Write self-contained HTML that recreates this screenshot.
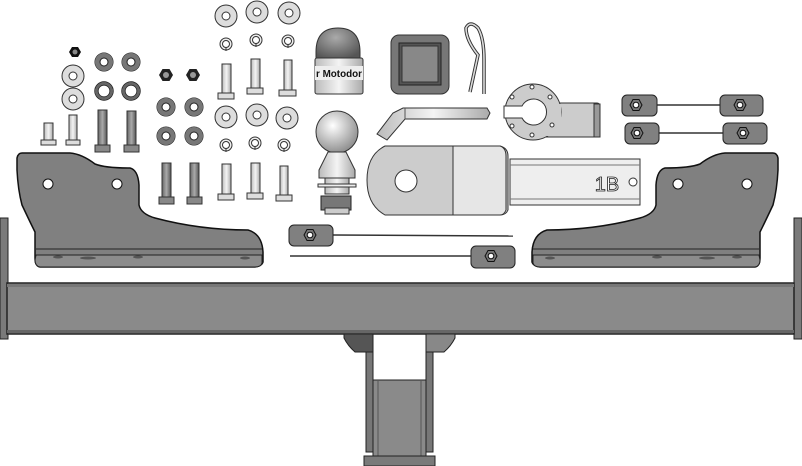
<!DOCTYPE html>
<html><head><meta charset="utf-8"><style>
html,body{margin:0;padding:0;background:#fff;width:802px;height:466px;overflow:hidden}
svg{display:block}
</style></head><body>
<svg width="802" height="466" viewBox="0 0 802 466" xmlns="http://www.w3.org/2000/svg">
<defs>
<linearGradient id="lb" x1="0" x2="1"><stop offset="0" stop-color="#bbb"/><stop offset=".5" stop-color="#f4f4f4"/><stop offset="1" stop-color="#aaa"/></linearGradient>
<linearGradient id="db" x1="0" x2="1"><stop offset="0" stop-color="#666"/><stop offset=".5" stop-color="#aaa"/><stop offset="1" stop-color="#555"/></linearGradient>
<radialGradient id="ball" cx=".4" cy=".35" r=".7"><stop offset="0" stop-color="#fff"/><stop offset="1" stop-color="#888"/></radialGradient>
<radialGradient id="cap" cx=".45" cy=".3" r=".7"><stop offset="0" stop-color="#aaa"/><stop offset="1" stop-color="#555"/></radialGradient>
<g id="lw"><circle r="11" fill="#ddd" stroke="#333" stroke-width="1"/><circle r="4" fill="#fff" stroke="#333" stroke-width="1"/></g>
<g id="dw"><circle r="9" fill="none" stroke="#222" stroke-width="1"/><circle r="6.5" fill="none" stroke="#777" stroke-width="5"/><circle r="4" fill="#fff" stroke="#222" stroke-width="1"/></g>
<g id="sr"><circle r="6" fill="#eee" stroke="#333" stroke-width="1"/><circle r="3.5" fill="#fff" stroke="#333" stroke-width="1"/><line x1="0" y1="3" x2="0" y2="7" stroke="#333"/></g>
<g id="dsr"><circle r="7.5" fill="none" stroke="#666" stroke-width="3"/><circle r="9.3" fill="none" stroke="#222" stroke-width=".8"/><circle r="5.8" fill="none" stroke="#222" stroke-width=".8"/></g>
<g id="hn"><polygon points="-7,0 -3.5,-6 3.5,-6 7,0 3.5,6 -3.5,6" fill="#222"/><circle r="3" fill="#999"/></g>
<g id="tn"><polygon points="-6,0 -3,-5.5 3,-5.5 6,0 3,5.5 -3,5.5" fill="#777" stroke="#111"/><circle r="2.8" fill="#fff" stroke="#111"/></g>
<g id="bracket">
<path d="M22,153 L70,153 Q82,154 95,164 Q105,168 130,168 Q138,170 139,185 L139,205 Q141,214 155,218 Q200,230 248,230 Q262,234 263,252 L263,262 Q262,266 255,267 L40,267 Q35,266 35,258 L35,232 Q30,222 22,205 Q18,190 17,170 L17,158 Q18,153 22,153 Z" fill="#808080" stroke="#111" stroke-width="1.5"/>
<path d="M36,249 L262,249" stroke="#222" stroke-width="1"/>
<path d="M36,255 L262,255 L262,263 Q261,267 255,267 L40,267 Q35,266 35,260 Z" fill="#8c8c8c" stroke="#222"/>
<circle cx="48" cy="184" r="5" fill="#fff" stroke="#111"/>
<circle cx="117" cy="184" r="5" fill="#fff" stroke="#111"/>
<ellipse cx="58" cy="257" rx="5" ry="1.5" fill="#555"/><ellipse cx="88" cy="258" rx="8" ry="1.5" fill="#555"/><ellipse cx="138" cy="257" rx="5" ry="1.5" fill="#555"/><ellipse cx="245" cy="258" rx="5" ry="1.5" fill="#555"/>
</g>
</defs>

<rect x="0" y="218" width="8" height="121" fill="#7a7a7a" stroke="#222"/>
<rect x="794" y="218" width="8" height="121" fill="#7a7a7a" stroke="#222"/>
<rect x="7" y="283" width="787" height="51" fill="#8a8a8a" stroke="#222" stroke-width="1.5"/>
<rect x="7" y="284" width="787" height="3" fill="#777"/>
<rect x="7" y="330" width="787" height="3" fill="#666"/>

<path d="M344,334 L373,334 L373,352 L355,352 Q348,346 344,338 Z" fill="#555" stroke="#222"/>
<path d="M455,334 L426,334 L426,352 L444,352 Q451,346 455,338 Z" fill="#888" stroke="#222"/>
<rect x="366" y="352" width="7" height="100" fill="#777" stroke="#222"/>
<rect x="426" y="352" width="7" height="100" fill="#777" stroke="#222"/>
<rect x="373" y="380" width="53" height="76" fill="#8a8a8a" stroke="#222"/>
<line x1="378" y1="380" x2="378" y2="456" stroke="#555"/><line x1="421" y1="380" x2="421" y2="456" stroke="#555"/>
<rect x="364" y="456" width="71" height="10" fill="#7a7a7a" stroke="#222"/>

<use href="#bracket"/>
<use href="#bracket" transform="translate(795,0) scale(-1,1)"/>

<g><polygon points="69,52 72,47 78,47 81,52 78,57 72,57" fill="#111"/><circle cx="75" cy="52" r="2.5" fill="#888"/></g>
<use href="#lw" x="73" y="76"/>
<use href="#lw" x="73" y="99"/>
<use href="#dw" x="104" y="62"/><use href="#dw" x="131" y="62"/>
<use href="#dsr" x="104" y="91"/><use href="#dsr" x="131" y="91"/>
<rect x="44" y="123" width="9" height="17" fill="url(#lb)" stroke="#333"/><rect x="41" y="140" width="15" height="5" fill="#ddd" stroke="#333"/>
<rect x="69" y="115" width="8" height="26" fill="url(#lb)" stroke="#333"/><rect x="66" y="140" width="14" height="5" fill="#ddd" stroke="#333"/>
<rect x="98" y="110" width="9" height="38" fill="url(#db)" stroke="#333"/><rect x="95" y="145" width="15" height="7" fill="#888" stroke="#333"/>
<rect x="127" y="111" width="9" height="38" fill="url(#db)" stroke="#333"/><rect x="124" y="145" width="15" height="7" fill="#888" stroke="#333"/>
<use href="#hn" x="166" y="75"/><use href="#hn" x="193" y="75"/>
<use href="#dw" x="166" y="107"/><use href="#dw" x="194" y="107"/>
<use href="#dw" x="166" y="136"/><use href="#dw" x="194" y="136"/>
<rect x="162" y="163" width="9" height="36" fill="url(#db)" stroke="#333"/><rect x="159" y="197" width="15" height="7" fill="#888" stroke="#333"/>
<rect x="190" y="163" width="9" height="36" fill="url(#db)" stroke="#333"/><rect x="187" y="197" width="15" height="7" fill="#888" stroke="#333"/>
<use href="#lw" x="226" y="16"/><use href="#lw" x="257" y="12"/><use href="#lw" x="289" y="13"/>
<use href="#sr" x="226" y="44"/><use href="#sr" x="256" y="40"/><use href="#sr" x="288" y="41"/>
<rect x="222" y="64" width="9" height="30" fill="url(#lb)" stroke="#333"/><rect x="218" y="93" width="16" height="6" fill="#ddd" stroke="#333"/>
<rect x="251" y="59" width="9" height="30" fill="url(#lb)" stroke="#333"/><rect x="247" y="88" width="16" height="6" fill="#ddd" stroke="#333"/>
<rect x="284" y="60" width="8" height="31" fill="url(#lb)" stroke="#333"/><rect x="279" y="90" width="17" height="6" fill="#ddd" stroke="#333"/>
<use href="#lw" x="226" y="117"/><use href="#lw" x="257" y="115"/><use href="#lw" x="287" y="118"/>
<use href="#sr" x="226" y="145"/><use href="#sr" x="255" y="143"/><use href="#sr" x="284" y="145"/>
<rect x="222" y="164" width="9" height="31" fill="url(#lb)" stroke="#333"/><rect x="218" y="194" width="16" height="6" fill="#ddd" stroke="#333"/>
<rect x="251" y="163" width="9" height="31" fill="url(#lb)" stroke="#333"/><rect x="247" y="193" width="16" height="6" fill="#ddd" stroke="#333"/>
<rect x="280" y="166" width="8" height="30" fill="url(#lb)" stroke="#333"/><rect x="276" y="195" width="16" height="6" fill="#ddd" stroke="#333"/>

<path d="M316,52 Q316,28 338,28 Q360,28 360,52 L360,60 L316,60 Z" fill="url(#cap)" stroke="#333"/>
<rect x="315" y="58" width="48" height="36" rx="2" fill="url(#lb)" stroke="#333"/>
<rect x="315" y="66" width="48" height="14" fill="#eee"/>
<text x="339" y="77" font-family="Liberation Sans, sans-serif" font-size="10" font-weight="bold" text-anchor="middle" fill="#111" textLength="46" lengthAdjust="spacingAndGlyphs">r Motodor</text>
<rect x="391" y="35" width="58" height="59" rx="8" fill="#777" stroke="#333"/>
<rect x="399" y="43" width="42" height="42" fill="#555" stroke="#222"/>
<rect x="402" y="46" width="36" height="36" fill="#888" stroke="#333"/>
<path d="M470,92 L478,55 Q466,40 466,28 Q470,20 478,28 Q484,38 484,60 L484,94" fill="none" stroke="#333" stroke-width="3.5"/>
<path d="M470,92 L478,55 Q466,40 466,28 Q470,20 478,28 Q484,38 484,60 L484,94" fill="none" stroke="#ddd" stroke-width="1.6"/>
<!-- plate -->
<rect x="540" y="103" width="60" height="34" rx="3" fill="#ccc" stroke="#333"/>
<circle cx="533" cy="112" r="28" fill="#ccc" stroke="#333"/>
<rect x="541" y="104" width="20" height="32" fill="#ccc"/>
<path d="M504,106 L522,106 A13,13 0 1 1 522,118 L504,118 Z" fill="#fff" stroke="#333"/>
<circle cx="532" cy="87" r="2" fill="#fff" stroke="#333"/><circle cx="550" cy="97" r="2" fill="#fff" stroke="#333"/><circle cx="552" cy="125" r="2" fill="#fff" stroke="#333"/><circle cx="532" cy="135" r="2" fill="#fff" stroke="#333"/><circle cx="512" cy="97" r="2" fill="#fff" stroke="#333"/><circle cx="512" cy="126" r="2" fill="#fff" stroke="#333"/>
<rect x="594" y="104" width="6" height="33" fill="#999" stroke="#333"/>
<path d="M403,108 L487,108 L490,113 L487,119 L405,119 L387,140 L377,134 L393,113 Z" fill="url(#lb)" stroke="#333"/>
<line x1="405" y1="108" x2="405" y2="119" stroke="#555"/>
<circle cx="337" cy="132" r="21" fill="url(#ball)" stroke="#333"/>
<path d="M328,152 L346,152 L355,170 L355,178 L319,178 L319,170 Z" fill="url(#lb)" stroke="#333"/>
<rect x="325" y="178" width="24" height="16" fill="url(#lb)" stroke="#333"/>
<rect x="318" y="184" width="38" height="3" fill="#eee" stroke="#333"/>
<rect x="321" y="196" width="30" height="14" fill="#777" stroke="#222"/>
<rect x="325" y="208" width="24" height="6" fill="#ccc" stroke="#333"/>
<path d="M510,159 L640,159 L640,205 L510,205 Z" fill="#eee" stroke="#333"/>
<line x1="510" y1="165" x2="640" y2="165" stroke="#777"/><line x1="510" y1="199" x2="640" y2="199" stroke="#777"/>
<path d="M385,146 L500,146 Q508,148 508,156 L508,210 Q506,215 500,215 L385,215 Q367,205 367,180 Q367,155 385,146 Z" fill="#ccc" stroke="#333"/>
<path d="M453,146 L500,146 Q506,148 506,156 L506,210 Q504,215 500,215 L453,215 Z" fill="#e6e6e6" stroke="#333"/>
<circle cx="406" cy="181" r="11" fill="#fff" stroke="#333"/>
<text x="607" y="191" font-family="Liberation Sans, sans-serif" font-size="20" text-anchor="middle" fill="#fff" stroke="#222" stroke-width=".8">1B</text>
<circle cx="633" cy="182" r="4" fill="#fff" stroke="#333"/>

<line x1="333" y1="235" x2="513" y2="236" stroke="#333" stroke-width="1.5"/>
<rect x="289" y="225" width="44" height="21" rx="5" fill="#808080" stroke="#222"/><use href="#tn" x="310" y="235"/>
<line x1="290" y1="256" x2="472" y2="256" stroke="#333" stroke-width="1.5"/>
<rect x="471" y="246" width="44" height="22" rx="5" fill="#808080" stroke="#222"/><use href="#tn" x="491" y="256"/>
<line x1="656" y1="105" x2="720" y2="105" stroke="#333" stroke-width="1.5"/>
<rect x="622" y="95" width="35" height="21" rx="5" fill="#808080" stroke="#222"/><use href="#tn" x="636" y="105"/>
<rect x="720" y="95" width="43" height="21" rx="5" fill="#808080" stroke="#222"/><use href="#tn" x="740" y="105"/>
<line x1="658" y1="133" x2="723" y2="133" stroke="#333" stroke-width="1.5"/>
<rect x="625" y="123" width="34" height="21" rx="5" fill="#808080" stroke="#222"/><use href="#tn" x="637" y="133"/>
<rect x="723" y="123" width="44" height="21" rx="5" fill="#808080" stroke="#222"/><use href="#tn" x="743" y="133"/>
</svg>
</body></html>
